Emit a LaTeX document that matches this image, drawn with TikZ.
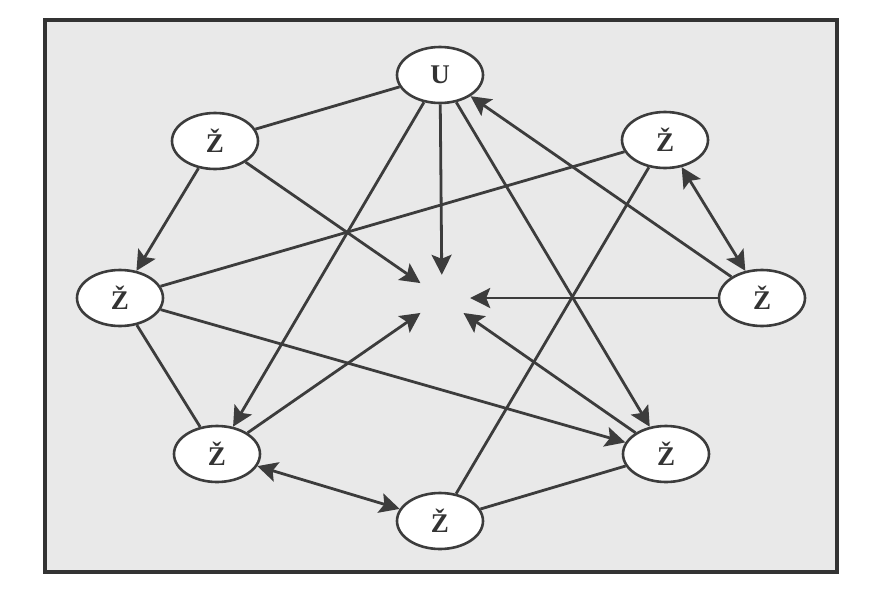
\documentclass[tikz,border=0pt]{standalone}
\usepackage{fontspec}
\setmainfont{Liberation Serif}
\usetikzlibrary{arrows.meta,shapes.geometric}
\definecolor{linec}{HTML}{3C3C3C}
\definecolor{framec}{HTML}{333333}
\definecolor{bgc}{HTML}{E9E9E9}
\definecolor{txtc}{HTML}{333333}
\begin{document}
\begin{tikzpicture}[x=1pt,y=-1pt,
  zn/.style={ellipse,draw=linec,line width=2.6pt,fill=white,minimum width=86pt,minimum height=56pt,inner sep=0pt,font=\bfseries\fontsize{27}{27}\selectfont,text=txtc},
  hub/.style={ellipse,minimum width=56pt,minimum height=46pt,inner sep=0pt},
  ln/.style={draw=linec,line width=2.8pt},
  tipa/.tip={Stealth[length=20pt,width=20pt,inset=4pt]},
  ar/.style={ln,-tipa},
  dar/.style={ln,tipa-tipa},
]
\useasboundingbox (0,0) rectangle (884,595);
\fill[white] (0,0) rectangle (884,595);
\draw[draw=framec,fill=bgc,line width=4pt] (45,20) rectangle (837,572);

\node[zn] (u)  at (440,75)  {U};
\node[zn] (z1) at (215,141) {Ž};
\node[zn] (z2) at (120,298) {Ž};
\node[zn] (z3) at (665,140) {Ž};
\node[zn] (z4) at (762,298) {Ž};
\node[zn] (z5) at (217,454) {Ž};
\node[zn] (z6) at (440,521) {Ž};
\node[zn] (z7) at (666,454) {Ž};
\node[hub] (c) at (442,298) {};

\draw[ln] (u) -- (z1);
\draw[ar] (u) -- (c);
\draw[ar] (u) -- (z5);
\draw[ar] (u) -- (z7);
\draw[ar] (z4) -- (u);
\draw[ar] (z1) -- (z2);
\draw[ar] (z1) -- (c);
\draw[ln] (z3) -- (z2);
\draw[ln] (z3) -- (z6);
\draw[dar] (z3) -- (z4);
\draw[ar] (z4) -- (c);
\draw[ln] (z2) -- (z5);
\draw[ar] (z2) -- (z7);
\draw[ar] (z5) -- (c);
\draw[dar] (z5) -- (z6);
\draw[ln] (z6) -- (z7);
\draw[ar] (z7) -- (c);
\end{tikzpicture}
\end{document}
